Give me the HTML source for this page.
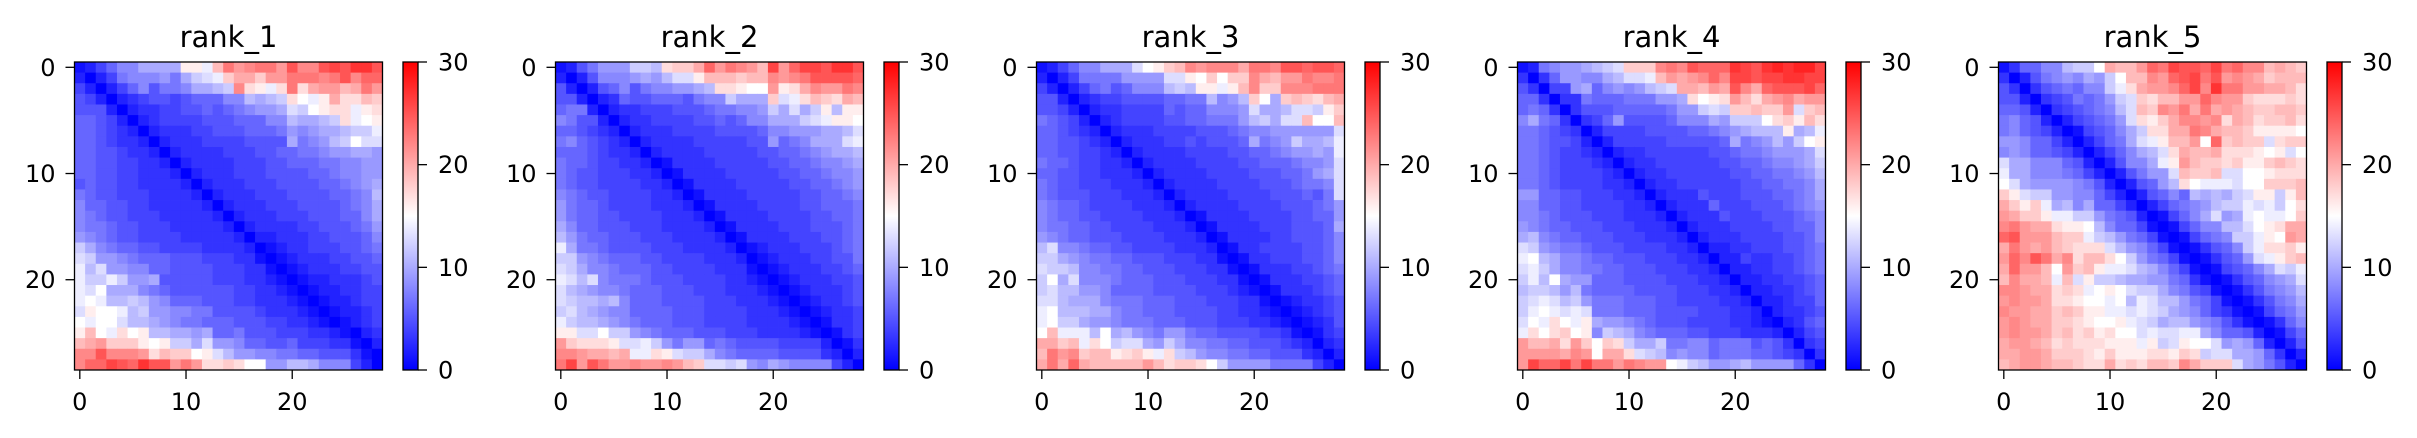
<!DOCTYPE html>
<html><head><meta charset="utf-8"><style>
html,body{margin:0;padding:0;background:#fff;}
svg{display:block;font-family:"DejaVu Sans","Liberation Sans",sans-serif;}
</style></head><body>
<svg id="chart" width="2417" height="438" viewBox="0 0 2417 438" xmlns="http://www.w3.org/2000/svg"></svg>
<script>
const panelTitles = ["rank_1","rank_2","rank_3","rank_4","rank_5"];
const axisTicks = [0,10,20];
const colorbarTicks = [0,10,20,30];
const vmin = 0, vmax = 30;
const rank1 = [
[1,2,4,6,8,8,10,10,10,10,16,16,14,19,23,21,22,23,23,21,25,22,22,25,26,25,27,27,25],
[2,0,2,4,7,8,8,8,9,7,10,12,13,14,18,20,20,18,21,21,23,23,23,22,23,25,22,24,24],
[4,2,0,2,4,6,8,5,7,7,8,10,10,11,12,22,17,16,14,17,23,17,20,21,21,19,20,23,21],
[5,4,2,0,2,3,4,5,5,4,5,6,6,6,8,8,11,10,11,12,17,15,14,16,20,17,17,19,18],
[5,5,5,2,0,2,3,3,4,4,5,5,6,5,6,7,8,9,9,10,13,12,15,16,17,17,14,16,17],
[6,6,5,4,2,0,2,3,4,4,4,4,5,5,5,6,6,6,8,8,11,10,10,11,12,17,14,15,16],
[6,6,5,4,3,2,0,2,3,3,3,4,4,5,5,5,6,6,6,7,9,8,9,10,10,11,12,12,14],
[6,6,5,4,3,3,2,0,2,3,3,3,4,4,4,4,5,5,5,5,10,7,8,9,11,12,15,13,13],
[6,6,5,5,4,3,3,2,0,2,3,3,3,3,4,4,4,5,5,6,6,7,7,8,9,9,10,10,9],
[6,6,5,5,4,4,3,3,2,0,2,3,3,3,3,4,4,4,5,5,6,6,6,7,7,8,8,9,9],
[6,6,5,5,4,4,3,3,3,2,0,2,3,3,3,4,4,4,5,5,5,5,6,6,7,8,8,9,9],
[5,6,5,5,4,4,3,3,3,3,2,0,2,3,3,3,4,4,4,5,5,5,5,6,6,7,8,9,10],
[7,6,5,5,4,4,4,3,3,3,3,2,0,2,3,3,3,4,4,4,5,5,5,5,6,6,7,8,11],
[8,6,6,5,5,4,4,3,3,3,3,3,2,0,2,3,3,3,4,4,4,5,5,5,5,6,7,8,10],
[8,7,6,5,5,4,4,4,3,3,3,3,3,2,0,2,3,3,3,4,4,4,5,5,5,6,6,8,10],
[8,7,7,6,5,5,4,4,4,3,3,3,3,3,2,0,2,3,3,3,3,4,4,5,5,5,6,7,9],
[9,8,7,6,5,5,4,4,4,4,3,3,3,3,3,2,0,2,2,3,3,3,4,4,5,5,5,6,8],
[12,10,8,7,6,6,5,5,4,4,4,4,3,3,3,3,2,0,1,2,3,3,4,4,4,5,5,6,7],
[13,12,9,9,8,7,6,6,6,5,5,5,4,4,4,3,3,1,0,1,2,3,3,3,4,4,5,5,6],
[14,11,13,9,9,8,8,6,6,5,5,5,5,4,4,4,3,3,1,0,1,2,3,3,3,4,4,5,5],
[14,12,12,14,12,9,9,10,5,5,5,5,5,4,4,4,3,3,2,1,0,1,2,2,3,3,3,4,5],
[14,13,15,10,10,10,8,7,6,5,5,5,5,5,5,4,4,3,3,2,1,0,1,2,2,3,3,4,4],
[14,15,14,11,11,12,11,9,8,6,6,6,5,5,5,4,4,3,3,3,2,1,0,1,2,2,3,4,4],
[13,16,15,15,14,11,12,9,9,8,8,7,7,5,5,5,5,4,3,3,3,2,1,0,1,2,2,3,4],
[15,14,15,15,13,11,11,10,9,8,7,7,6,6,6,5,5,5,4,4,3,3,2,1,0,1,2,3,4],
[16,19,15,14,17,15,16,11,11,10,10,9,10,6,6,7,5,5,5,4,4,4,3,3,2,1,0,2,3],
[19,20,21,18,18,18,16,15,16,12,12,10,13,9,9,8,6,6,5,5,6,4,4,4,3,3,1,0,2],
[22,22,25,22,22,22,21,17,19,18,18,15,16,13,11,9,9,8,8,7,7,6,6,5,5,5,3,1,0],
[22,24,24,26,25,24,27,25,25,21,23,21,17,17,18,17,15,15,9,9,11,11,10,8,8,8,4,2,0]];
const rank2 = [
[1,2,5,7,9,9,9,12,12,11,17,18,18,20,24,21,23,22,21,19,26,21,24,26,26,25,27,27,25],
[2,0,2,5,8,8,8,9,10,9,11,13,13,16,19,19,19,18,19,19,22,21,22,23,25,25,25,25,24],
[5,2,0,2,5,6,8,5,7,8,8,9,9,10,11,17,17,16,15,15,21,16,17,20,22,21,21,23,22],
[5,5,2,0,2,3,6,5,5,6,6,6,5,7,8,8,12,10,10,10,18,13,14,17,19,18,17,20,19],
[6,7,7,2,0,2,3,3,4,4,4,5,5,5,6,7,7,8,8,9,12,10,13,10,12,16,11,16,16],
[8,7,5,5,2,0,2,3,3,4,4,4,4,5,5,6,5,6,8,8,10,10,10,12,13,14,16,16,15],
[6,6,5,4,3,2,0,2,3,3,3,4,4,4,4,5,5,5,5,6,8,8,9,9,9,10,10,11,13],
[7,8,6,5,4,3,2,0,2,3,3,3,3,4,4,4,4,4,5,5,9,6,7,8,10,10,10,13,14],
[6,6,6,5,4,3,3,2,0,2,3,3,3,3,4,4,4,4,4,5,5,6,6,7,8,9,10,10,11],
[7,6,6,5,4,4,3,3,2,0,1,3,3,3,3,4,4,4,4,4,5,5,6,6,7,8,8,9,10],
[7,6,5,5,4,4,4,3,3,2,0,1,3,3,3,3,4,4,4,4,4,5,5,6,6,7,8,8,9],
[7,6,5,5,4,4,4,4,3,3,2,0,1,3,3,3,3,4,4,4,4,4,5,5,6,6,7,8,9],
[8,7,6,5,5,4,4,4,4,3,3,2,0,1,3,3,3,3,4,4,4,4,4,5,5,6,6,7,8],
[9,7,6,6,5,4,4,4,4,3,3,3,2,0,1,3,3,3,3,4,4,4,4,5,5,6,6,6,7],
[9,7,6,6,5,5,4,4,4,4,3,3,3,2,0,1,3,3,3,3,4,4,4,4,5,5,6,6,7],
[10,8,6,6,5,5,5,4,4,4,3,3,3,3,2,0,1,3,3,3,3,4,4,4,5,5,5,6,7],
[11,9,7,6,6,5,5,5,4,4,4,3,3,3,3,2,0,1,3,3,3,3,4,4,4,5,5,6,7],
[14,10,7,7,6,5,5,5,5,4,4,4,3,3,3,3,2,0,1,2,3,3,3,4,4,4,5,6,7],
[12,12,9,8,7,6,6,6,5,5,4,4,4,4,3,3,3,2,0,1,2,3,3,3,4,4,5,5,7],
[13,12,10,8,8,7,6,6,6,5,5,4,4,4,4,3,3,3,1,0,1,2,3,3,3,4,4,5,6],
[14,13,11,13,8,7,7,7,6,5,5,5,4,4,4,4,3,3,2,1,0,1,2,3,3,3,4,4,5],
[13,11,10,9,8,8,7,6,6,6,5,5,5,4,4,4,3,3,3,2,1,0,1,2,3,3,3,4,5],
[13,12,11,11,10,11,8,6,6,6,5,5,5,5,4,4,4,3,3,3,2,1,0,1,2,3,3,4,5],
[12,13,11,10,9,8,8,6,6,6,6,5,5,5,4,4,4,4,3,3,3,2,1,0,1,2,3,3,4],
[14,12,11,11,10,9,8,7,6,6,6,5,5,5,4,4,4,4,3,3,3,3,2,1,0,1,3,3,4],
[16,16,13,13,15,12,12,9,8,7,6,6,6,5,5,5,4,4,4,3,3,3,3,2,1,0,1,3,4],
[21,18,17,17,17,16,13,13,14,12,9,7,9,9,6,7,6,5,5,5,5,4,4,4,4,2,0,1,3],
[22,22,21,20,20,19,20,14,14,17,16,13,12,12,10,8,7,6,6,6,6,5,5,5,5,3,2,0,2],
[23,26,21,25,23,21,21,22,21,21,22,21,19,18,13,13,12,13,9,8,10,9,8,8,8,8,4,2,0]];
const rank3 = [
[1,2,4,6,8,8,10,10,10,13,15,16,18,19,22,21,22,22,22,20,23,23,22,25,25,24,25,25,24],
[2,0,2,4,7,7,7,7,9,9,9,9,13,13,16,15,18,15,18,18,22,20,19,21,21,23,22,22,23],
[4,2,0,2,4,6,7,5,6,8,8,8,11,12,11,16,16,14,16,19,22,18,18,22,22,22,23,23,23],
[5,5,2,0,2,3,4,4,5,5,5,5,6,6,7,7,11,8,9,11,18,15,10,18,19,18,17,19,20],
[5,5,4,2,0,2,3,3,4,4,4,4,6,5,6,6,8,8,8,9,13,10,10,11,13,13,12,16,18],
[7,6,5,4,2,0,2,3,4,4,4,4,5,5,6,6,7,7,7,9,11,12,10,13,13,19,15,15,19],
[6,6,5,4,3,2,0,2,3,3,3,4,4,4,4,5,5,5,6,7,8,8,9,9,9,9,9,9,13],
[6,6,5,5,4,3,2,0,2,3,3,3,4,4,5,4,5,5,5,6,10,7,8,9,12,10,10,11,14],
[6,6,5,5,4,4,3,2,0,2,3,3,3,3,4,4,4,4,5,5,6,6,7,8,9,9,10,9,14],
[7,6,6,5,4,4,3,3,2,0,2,3,3,3,3,4,4,4,4,5,5,6,6,6,7,8,8,9,13],
[6,6,5,5,4,4,3,3,3,2,0,2,3,3,3,3,4,4,4,4,5,5,5,6,6,7,9,10,13],
[7,6,5,5,4,4,4,3,3,3,2,0,2,3,3,3,3,4,4,4,4,5,5,5,6,7,7,8,13],
[7,6,5,5,5,4,4,4,3,3,3,2,0,2,3,3,3,3,4,4,4,4,5,5,5,6,5,7,13],
[8,7,6,6,5,4,4,4,4,3,3,3,2,0,2,3,3,3,3,4,4,4,4,5,5,5,6,7,9],
[8,7,6,6,5,5,4,4,4,4,3,3,3,2,0,1,3,3,3,3,4,4,4,4,5,5,6,6,9],
[8,7,7,6,6,5,5,4,4,4,4,3,3,3,2,0,1,3,3,3,3,4,4,4,5,5,5,6,10],
[9,8,7,6,6,5,5,5,4,4,4,4,3,3,3,2,0,1,3,3,3,3,4,4,5,5,5,6,8],
[11,13,8,8,7,6,6,5,5,4,4,4,4,3,3,3,2,0,1,3,3,4,4,4,4,5,5,6,8],
[12,12,10,9,8,7,7,6,6,5,5,5,4,4,4,3,3,1,0,1,3,3,4,4,4,5,5,6,8],
[13,12,12,11,8,8,7,7,6,6,5,5,5,4,4,4,3,3,1,0,1,3,3,3,4,4,5,6,7],
[12,15,10,13,8,8,8,7,6,6,6,5,5,5,4,4,4,3,3,1,0,1,3,3,3,4,4,5,6],
[12,13,11,11,9,9,8,6,6,6,6,5,5,5,5,4,4,4,3,2,1,0,1,3,3,3,4,5,6],
[13,13,11,10,10,10,8,7,7,7,6,6,6,5,5,5,4,4,4,3,3,1,0,1,2,3,3,4,5],
[14,15,11,11,11,10,10,8,7,7,6,6,6,5,5,5,5,4,4,3,3,2,1,0,1,2,3,4,5],
[14,15,12,12,10,9,9,8,7,7,7,6,6,6,5,5,5,4,4,4,3,3,2,1,0,1,2,3,5],
[15,19,14,14,14,11,15,10,11,9,8,7,9,9,7,6,6,5,5,5,5,4,4,3,1,0,1,3,4],
[20,20,18,19,14,17,15,12,13,13,10,9,12,10,8,8,7,7,6,6,5,5,5,4,3,2,0,2,3],
[19,23,21,22,18,19,19,16,17,18,16,14,17,12,11,9,8,8,7,7,6,6,5,5,5,3,2,0,2],
[20,23,20,24,20,19,19,19,19,19,21,19,17,18,18,17,15,12,9,9,9,9,7,7,7,7,4,2,0]];
const rank4 = [
[1,2,7,8,9,9,10,11,12,13,18,18,18,22,23,22,25,24,24,24,27,26,25,27,28,27,28,28,26],
[3,0,3,6,9,9,8,8,10,11,13,13,14,19,21,20,21,22,24,22,26,26,25,26,26,27,27,26,26],
[5,3,0,4,4,9,10,6,8,9,8,9,11,12,13,20,20,19,21,20,25,22,20,24,25,25,25,26,24],
[6,6,3,0,3,3,7,6,6,6,7,7,7,9,9,10,17,15,16,17,21,19,17,20,21,22,20,21,21],
[6,7,6,3,0,3,5,5,5,6,6,6,6,6,7,9,9,12,13,12,18,18,19,18,18,21,13,18,19],
[8,10,7,6,3,0,3,4,6,9,5,5,5,5,6,8,8,8,10,9,12,12,12,15,17,18,16,19,17],
[7,7,6,5,4,3,0,2,4,4,4,4,5,5,5,5,6,6,7,8,9,10,11,11,11,16,10,11,14],
[7,7,6,5,5,4,2,0,2,4,4,4,4,4,5,5,5,5,5,6,10,7,8,9,11,9,12,15,16],
[7,7,6,5,4,4,3,2,0,2,3,3,4,4,4,4,4,4,5,5,6,7,7,8,9,9,9,10,13],
[7,7,6,5,4,4,4,3,2,0,2,3,3,4,4,4,4,4,4,5,5,6,6,7,8,8,9,10,12],
[7,7,6,5,4,4,4,4,3,2,0,2,3,3,4,4,4,4,4,4,5,5,6,6,7,7,8,9,11],
[7,7,6,5,4,4,4,4,3,3,2,0,2,3,3,4,4,4,4,4,4,5,5,6,6,7,7,8,10],
[9,9,6,6,5,5,4,4,4,3,3,2,0,2,3,3,3,5,4,4,4,5,5,5,6,6,7,8,10],
[8,8,6,6,5,5,4,4,4,4,3,3,2,0,2,3,3,3,6,4,4,4,5,5,5,6,7,8,9],
[8,8,7,6,5,5,5,4,4,4,3,3,3,2,0,2,3,3,3,5,4,4,4,5,5,5,6,7,8],
[9,8,7,6,6,5,5,5,4,4,4,3,3,3,2,0,2,3,3,3,4,4,4,4,5,5,6,6,8],
[10,11,8,7,6,6,5,5,5,4,4,4,3,3,3,2,0,2,3,3,3,4,4,4,4,5,5,6,8],
[13,12,9,8,7,7,6,5,5,5,4,4,4,4,3,3,2,0,2,2,3,3,4,4,4,5,5,6,7],
[14,15,11,10,8,8,7,6,6,5,5,5,4,4,4,3,3,2,0,2,2,4,3,3,4,4,5,6,7],
[13,14,12,10,8,8,7,7,6,6,5,5,5,4,4,4,3,3,2,0,2,2,3,3,4,4,5,6,7],
[12,14,11,15,10,9,9,6,6,6,5,5,5,5,4,4,4,3,3,2,0,2,2,3,3,4,4,5,6],
[11,12,12,11,9,11,7,6,6,6,6,5,5,5,5,4,4,4,3,3,2,0,2,2,3,3,4,5,6],
[12,13,14,13,11,12,9,7,7,7,6,6,6,5,5,4,4,4,4,3,3,2,0,2,2,3,4,4,6],
[12,14,15,14,13,14,13,7,7,7,6,6,6,5,5,5,5,4,4,4,3,3,2,0,2,3,3,4,5],
[13,15,14,17,15,14,16,10,9,9,8,7,6,5,5,5,4,4,4,4,3,3,2,1,0,2,3,5,6],
[14,17,15,17,18,15,16,8,12,11,10,8,7,6,6,6,5,5,4,4,4,3,3,3,2,0,2,4,5],
[21,19,19,20,17,21,18,15,18,17,12,10,10,12,7,7,8,8,6,7,7,7,5,6,5,3,0,3,4],
[21,21,21,21,20,22,21,15,20,20,17,13,12,11,8,9,8,8,6,7,7,7,6,6,5,4,3,0,3],
[21,26,24,24,26,23,26,23,23,21,23,22,21,21,15,14,12,11,9,9,10,11,9,9,9,9,6,3,0]];
const rank5 = [
[1,3,6,6,8,8,11,12,12,15,20,19,19,21,24,23,26,25,25,24,26,23,24,22,22,19,20,19,18],
[3,0,2,5,7,8,9,8,10,9,12,15,19,19,22,21,24,25,26,23,25,21,22,21,20,18,19,19,19],
[5,3,0,3,5,6,7,6,8,8,12,14,17,20,21,21,22,24,26,22,27,23,23,21,21,20,20,19,17],
[5,5,2,0,3,4,5,7,6,7,9,12,13,18,17,19,19,21,21,24,22,21,21,18,17,17,17,18,17],
[6,6,5,2,0,3,4,5,6,7,8,11,13,19,18,22,21,23,20,23,20,21,20,19,18,18,19,19,18],
[7,8,6,5,2,0,2,4,5,6,7,9,13,17,16,18,20,22,22,21,22,17,20,19,17,18,18,19,17],
[7,8,6,5,4,2,0,1,4,5,6,8,10,12,17,17,20,20,23,22,20,19,19,18,16,16,16,16,15],
[9,9,8,6,6,4,2,0,2,4,6,7,10,13,14,16,19,19,21,15,24,18,19,18,18,13,17,18,18],
[8,9,8,6,6,5,4,2,0,2,4,6,8,10,11,13,17,20,19,19,20,17,17,17,16,15,16,13,15],
[13,10,10,8,8,8,6,5,2,0,2,5,8,8,10,14,16,21,19,18,18,17,18,16,16,18,19,18,17],
[14,10,10,8,8,8,7,6,4,2,0,2,5,7,9,9,13,19,18,18,19,13,13,15,15,16,17,17,17],
[15,13,10,9,9,9,9,8,7,5,2,0,2,5,6,9,11,17,15,14,14,14,13,15,15,18,18,18,19],
[18,16,13,12,12,9,9,8,8,6,4,2,0,2,5,6,8,6,11,10,11,10,12,13,16,16,12,16,19],
[20,18,16,18,14,10,11,8,10,6,6,4,2,0,2,4,6,7,8,9,11,12,12,14,13,14,12,15,17],
[21,20,18,18,16,14,14,12,12,9,7,6,5,2,0,1,4,6,8,10,13,9,10,14,15,14,14,15,18],
[22,23,21,20,20,17,16,16,15,11,8,6,6,4,1,0,1,4,6,8,8,11,11,13,15,16,17,20,20],
[24,25,21,21,21,19,18,18,14,12,11,9,7,6,4,1,0,1,4,6,7,8,12,12,14,16,15,21,20],
[20,23,21,20,21,19,18,17,17,17,13,11,9,8,6,4,1,0,1,3,5,6,8,12,14,17,17,18,16],
[21,24,22,25,23,20,22,17,19,19,17,15,12,9,7,6,4,1,0,1,3,5,6,9,13,14,16,18,19],
[20,24,21,21,19,15,21,18,19,16,14,14,13,11,10,8,6,4,1,0,1,4,5,6,8,10,13,12,14],
[19,22,20,20,19,14,19,13,16,12,12,11,10,10,9,9,7,6,3,1,0,1,3,5,6,8,9,10,13],
[22,22,21,20,20,17,18,17,14,15,16,15,13,12,12,10,8,7,5,4,1,0,1,3,5,7,8,9,11],
[21,22,21,21,20,17,17,16,15,15,14,15,11,14,13,11,11,9,7,6,4,1,0,1,3,5,7,8,10],
[22,21,21,20,20,18,19,18,16,16,14,14,13,14,13,12,10,9,8,6,4,3,1,0,1,4,6,7,9],
[21,22,21,20,20,18,18,17,16,15,15,16,14,13,12,10,11,11,9,8,7,5,3,1,0,1,3,6,8],
[21,22,21,21,20,18,19,17,18,16,17,15,15,13,14,13,13,14,14,10,8,6,6,5,2,0,1,4,6],
[20,21,21,20,19,17,18,17,17,17,16,16,16,14,16,12,13,16,15,15,13,9,10,9,6,2,0,2,5],
[20,20,21,21,20,18,18,18,17,16,18,16,16,16,17,17,16,18,17,12,13,13,10,10,9,6,3,0,2],
[19,20,21,21,20,19,19,18,17,17,20,17,18,17,19,19,18,22,20,18,18,18,13,10,9,7,5,2,0]];
const matrices = [rank1, rank2, rank3, rank4, rank5];

const NS = "http://www.w3.org/2000/svg";
const svg = document.getElementById("chart");
function mk(tag, attrs, parent){ const e=document.createElementNS(NS,tag); for(const k in attrs) e.setAttribute(k,attrs[k]); (parent||svg).appendChild(e); return e; }
function bwr(v){
  let t=(v-vmin)/(vmax-vmin); t=Math.max(0,Math.min(1,t));
  let r,g,b;
  if(t<0.5){ r=g=Math.round(510*t); b=255; } else { r=255; g=b=Math.round(255*(2-2*t)); }
  return "rgb("+r+","+g+","+b+")";
}
const AX_W = 308, AX_TOP = 62, PANEL_DX = 481, AX_LEFT0 = 74.5;
const CB_DX = 328.5, CB_W = 15;

// gradient for colorbar
const defs = mk("defs",{});
const grad = mk("linearGradient",{id:"bwr",x1:"0",y1:"1",x2:"0",y2:"0"},defs);
[[0,"#0000ff"],[0.5,"#ffffff"],[1,"#ff0000"]].forEach(s=>mk("stop",{offset:s[0],"stop-color":s[1]},grad));

matrices.forEach((M,p)=>{
  const n = M.length;
  const left = AX_LEFT0 + p*PANEL_DX;
  const cell = AX_W / n;
  const xScale = v => left + (v+0.5)*cell;
  const yScale = v => AX_TOP + (v+0.5)*cell;
  const g = mk("g",{});
  
  
  M.forEach((row,i)=>{
    row.forEach((v,j)=>{
      const r = mk("rect",{x:(xScale(j)-cell/2).toFixed(2),y:(yScale(i)-cell/2).toFixed(2),width:(cell+0.4).toFixed(2),height:(cell+0.4).toFixed(2),fill:bwr(v)},g);
      
      
    });
  });
  const frame = mk("rect",{x:left,y:AX_TOP,width:AX_W,height:AX_W,fill:"none",stroke:"#000","stroke-width":1.3},g);
  
  
  const title = mk("text",{x:left+AX_W/2,y:47,"text-anchor":"middle","font-size":29,fill:"#000"},g);
  title.textContent = panelTitles[p];
  
  
  axisTicks.forEach(t=>{
    const y = yScale(t), x = xScale(t);
    mk("line",{x1:left-9,x2:left,y1:y,y2:y,stroke:"#000","stroke-width":1.3},g);
    const ly = mk("text",{x:left-19,y:y+8.5,"text-anchor":"end","font-size":24,fill:"#000"},g);
    ly.textContent = t;
    
    
    mk("line",{x1:x,x2:x,y1:AX_TOP+AX_W,y2:AX_TOP+AX_W+9,stroke:"#000","stroke-width":1.3},g);
    const lx = mk("text",{x:x,y:410,"text-anchor":"middle","font-size":24,fill:"#000"},g);
    lx.textContent = t;
    
    
  });
  // colorbar
  const cbx = left + CB_DX;
  const cbScale = v => AX_TOP + AX_W - (v-vmin)/(vmax-vmin)*AX_W;
  const cb = mk("rect",{x:cbx,y:AX_TOP,width:CB_W,height:AX_W,fill:"url(#bwr)",stroke:"#000","stroke-width":1.3},g);
  
  
  colorbarTicks.forEach(t=>{
    const y = cbScale(t);
    mk("line",{x1:cbx+CB_W,x2:cbx+CB_W+9,y1:y,y2:y,stroke:"#000","stroke-width":1.3},g);
    const l = mk("text",{x:cbx+CB_W+20,y:y+8.5,"text-anchor":"start","font-size":24,fill:"#000"},g);
    l.textContent = t;
    
    
  });
});
</script>
</body></html>
